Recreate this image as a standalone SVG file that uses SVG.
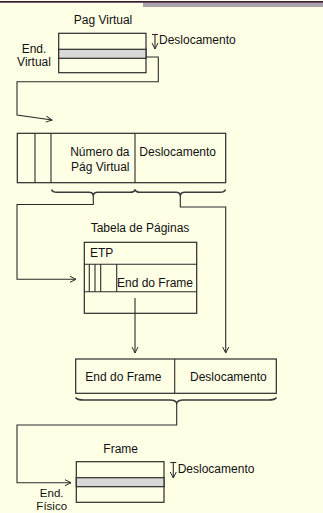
<svg xmlns="http://www.w3.org/2000/svg" width="323" height="513" viewBox="0 0 323 513">
<defs>
<style>
text{font-family:"Liberation Sans",Arial,sans-serif;font-size:12px;fill:#111}
.sm{font-size:11.5px}
.box{fill:none;stroke:#2a2a2a;stroke-width:1.2}
.band{fill:#d9d9d9;stroke:#2a2a2a;stroke-width:1.2}
.ln{fill:none;stroke:#2a2a2a;stroke-width:1.1}
.br{fill:none;stroke:#3a3a3a;stroke-width:1.5}
</style>
<marker id="ah" markerWidth="8" markerHeight="8" refX="7" refY="4" orient="auto" markerUnits="userSpaceOnUse">
<path d="M1,1 L7,4 L1,7" fill="none" stroke="#2a2a2a" stroke-width="1"/>
</marker>
</defs>
<rect width="323" height="513" fill="#ffffe6"/>
<rect x="143" y="2.5" width="180" height="4.5" fill="#a8a3aa"/>
<rect x="0" y="1" width="323" height="1.7" fill="#3a1a3a"/>

<g id="pag-virtual">
<text x="103" y="23.5" text-anchor="middle">Pag Virtual</text>
<rect class="box" x="58.7" y="33.3" width="87.3" height="39.4"/>
<rect class="band" x="58.7" y="49.3" width="87.3" height="9"/>
<line class="ln" x1="152" y1="34.5" x2="158" y2="34.5"/>
<line class="ln" x1="155" y1="34.5" x2="155" y2="49" marker-end="url(#ah)"/>
<text x="159" y="44">Deslocamento</text>
<text x="34" y="53" text-anchor="middle">End.</text>
<text x="34" y="65.7" text-anchor="middle">Virtual</text>
</g>

<g id="endereco-virtual">
<rect class="box" x="17.3" y="133.3" width="208.4" height="49.4"/>
<line class="ln" x1="35" y1="133.3" x2="35" y2="182.7"/>
<line class="ln" x1="51" y1="133.3" x2="51" y2="182.7"/>
<line class="ln" x1="135" y1="133.3" x2="135" y2="182.7"/>
<text x="129.5" y="156" text-anchor="end">Número da</text>
<text x="129.5" y="171" text-anchor="end">Pág Virtual</text>
<text x="139.3" y="156">Deslocamento</text>
<path class="br" d="M51.5,189.5 Q52.5,192.3 57,192.3 L89,192.3 Q92.5,192.3 93.3,195 Q94.2,192.3 97.5,192.3 L130,192.3 Q134.5,192.3 135,189.5"/>
<path class="br" d="M135,189.5 Q135.8,192.3 140,192.3 L176,192.3 Q179.5,192.3 180.3,195 Q181.2,192.3 184.5,192.3 L220,192.3 Q224.5,192.3 225.5,189.5"/>
</g>

<g id="tabela-paginas">
<text x="140" y="231.7" text-anchor="middle">Tabela de Páginas</text>
<rect class="box" x="84.3" y="242.3" width="112.4" height="71"/>
<line class="ln" x1="84.3" y1="264.3" x2="196.7" y2="264.3"/>
<line class="ln" x1="84.3" y1="291.7" x2="196.7" y2="291.7"/>
<line class="ln" x1="89.3" y1="264.3" x2="89.3" y2="291.7"/>
<line class="ln" x1="95" y1="264.3" x2="95" y2="291.7"/>
<line class="ln" x1="100.7" y1="264.3" x2="100.7" y2="291.7"/>
<line class="ln" x1="116.7" y1="264.3" x2="116.7" y2="291.7"/>
<text x="90" y="256.7">ETP</text>
<text x="117" y="286.7">End do Frame</text>
</g>

<g id="endereco-fisico">
<rect class="box" x="75.7" y="359" width="200.6" height="34.3"/>
<line class="ln" x1="174.7" y1="359" x2="174.7" y2="393.3"/>
<text x="85.3" y="381">End do Frame</text>
<text x="190" y="381">Deslocamento</text>
<path class="br" d="M75.5,397.5 Q77,400 84,400 L170,400 Q175.5,400 176.7,403 Q178,400 183,400 L268,400 Q275,400 276.5,397.5"/>
</g>

<g id="frame">
<text x="120.7" y="453.3" text-anchor="middle">Frame</text>
<rect class="box" x="76.3" y="461.7" width="87.7" height="40.6"/>
<rect class="band" x="76.3" y="477.7" width="87.7" height="9"/>
<line class="ln" x1="170.3" y1="462.5" x2="176.3" y2="462.5"/>
<line class="ln" x1="173.3" y1="462.5" x2="173.3" y2="478" marker-end="url(#ah)"/>
<text x="177.7" y="472.7">Deslocamento</text>
<text class="sm" x="51.7" y="496.5" text-anchor="middle">End.</text>
<text class="sm" x="51.7" y="510" text-anchor="middle">Físico</text>
</g>

<g id="connectors">
<polyline class="ln" points="146,57 158.3,57 158.3,81.7 17,81.7 17,115 52,120" marker-end="url(#ah)"/>
<polyline class="ln" points="93.3,195 93.3,204.5 17,204.5 17,279.3 76,279.3" marker-end="url(#ah)"/>
<polyline class="ln" points="180.3,195 180.3,207 225.7,207 225.7,353" marker-end="url(#ah)"/>
<line class="ln" x1="135" y1="298" x2="135" y2="353" marker-end="url(#ah)"/>
<polyline class="ln" points="176.7,403 176.7,425 17,425 17,482.7 71,482.7" marker-end="url(#ah)"/>
</g>
</svg>
